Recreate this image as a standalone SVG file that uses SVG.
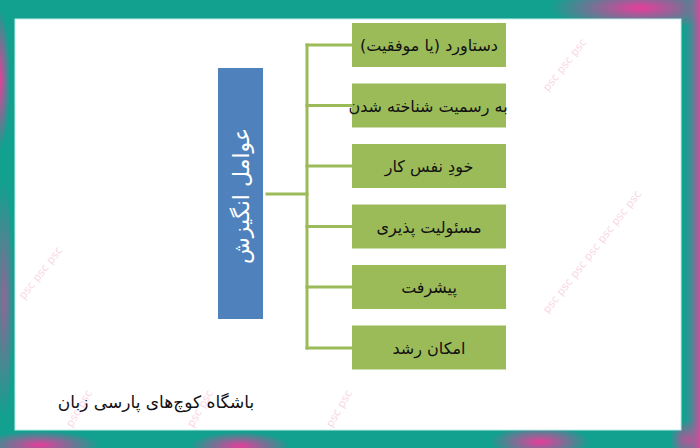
<svg xmlns="http://www.w3.org/2000/svg" width="700" height="448" viewBox="0 0 700 448">
  <defs>
    <radialGradient id="pk" cx="50%" cy="50%" r="50%">
      <stop offset="0" stop-color="#f2389b" stop-opacity="0.95"/>
      <stop offset="1" stop-color="#f2389b" stop-opacity="0"/>
    </radialGradient>
    <linearGradient id="rightEdge" x1="0" y1="0" x2="1" y2="0">
      <stop offset="0" stop-color="#12a08f" stop-opacity="0"/>
      <stop offset="1" stop-color="#d84a9c"/>
    </linearGradient>
    <style>
      .node rect.box { fill: #9bbb59; }
      .node text { font-family: "DejaVu Sans", "Noto Sans", sans-serif; font-size: 16px; fill: #111; text-anchor: middle; direction: rtl; }
      .conn line { stroke: #9bbb59; stroke-width: 3; stroke-linecap: square; }
      .wm { font-family: "DejaVu Sans", sans-serif; font-size: 11px; fill: #f4a8c8; opacity: 0.45; }
    </style>
  </defs>

  <!-- frame background -->
  <rect x="0" y="0" width="700" height="448" fill="#12a08f"/>
  <ellipse cx="640" cy="8" rx="90" ry="22" fill="url(#pk)"/>
  <ellipse cx="0" cy="80" rx="10" ry="70" fill="url(#pk)"/>
  <ellipse cx="4" cy="300" rx="10" ry="120" fill="url(#pk)" opacity="0.6"/>
  <ellipse cx="40" cy="445" rx="60" ry="14" fill="url(#pk)"/>
  <ellipse cx="240" cy="446" rx="50" ry="14" fill="url(#pk)"/>
  <ellipse cx="540" cy="442" rx="50" ry="16" fill="url(#pk)"/>
  <ellipse cx="690" cy="440" rx="20" ry="20" fill="url(#pk)"/>
  <rect x="682" y="0" width="18" height="448" fill="url(#rightEdge)"/>

  <!-- white canvas -->
  <rect x="15" y="19" width="666" height="411" fill="#ffffff" stroke="#bfeee8" stroke-width="1"/>

  <!-- watermark -->
  <g id="watermark">
    <text class="wm" transform="translate(548,92) rotate(-52)">psc psc psc</text>
    <text class="wm" transform="translate(548,314) rotate(-52)">psc psc psc psc psc psc psc</text>
    <text class="wm" transform="translate(24,300) rotate(-52)">psc psc psc</text>
    <text class="wm" transform="translate(72,428) rotate(-60)">psc psc</text>
    <text class="wm" transform="translate(193,428) rotate(-60)">psc psc</text>
    <text class="wm" transform="translate(332,428) rotate(-60)">psc psc</text>
  </g>

  <!-- connectors -->
  <g id="connectors" class="conn">
    <line x1="267" y1="194" x2="307" y2="194"/>
    <line x1="307" y1="45" x2="307" y2="348"/>
    <line x1="307" y1="45" x2="352" y2="45"/>
    <line x1="307" y1="105.5" x2="352" y2="105.5"/>
    <line x1="307" y1="166" x2="352" y2="166"/>
    <line x1="307" y1="226.5" x2="352" y2="226.5"/>
    <line x1="307" y1="287" x2="352" y2="287"/>
    <line x1="307" y1="348" x2="352" y2="348"/>
  </g>

  <!-- root node -->
  <g id="root">
    <rect x="218" y="68" width="45" height="251" fill="#4f81bd"/>
    <text transform="translate(249,196) rotate(-90)" font-family="DejaVu Sans, sans-serif" font-size="22" fill="#ffffff" text-anchor="middle" direction="rtl">عوامل انگیزش</text>
  </g>

  <g id="n1" class="node">
    <rect class="box" x="352" y="23" width="154" height="44"/>
    <text x="429" y="51">دستاورد (یا موفقیت)</text>
  </g>
  <g id="n2" class="node">
    <rect class="box" x="352" y="83.5" width="154" height="44"/>
    <text x="428" y="111.5">به رسمیت شناخته شدن</text>
  </g>
  <g id="n3" class="node">
    <rect class="box" x="352" y="144" width="154" height="44"/>
    <text x="429" y="172">خودِ نفس کار</text>
  </g>
  <g id="n4" class="node">
    <rect class="box" x="352" y="204.5" width="154" height="44"/>
    <text x="429" y="232.5">مسئولیت پذیری</text>
  </g>
  <g id="n5" class="node">
    <rect class="box" x="352" y="265" width="154" height="44"/>
    <text x="429" y="293">پیشرفت</text>
  </g>
  <g id="n6" class="node">
    <rect class="box" x="352" y="325.5" width="154" height="44"/>
    <text x="429" y="353.5">امکان رشد</text>
  </g>

  <!-- caption -->
  <text x="156" y="408" font-family="DejaVu Sans, sans-serif" font-size="17" fill="#111" text-anchor="middle" direction="rtl">باشگاه کوچ‌های پارسی زبان</text>
</svg>
